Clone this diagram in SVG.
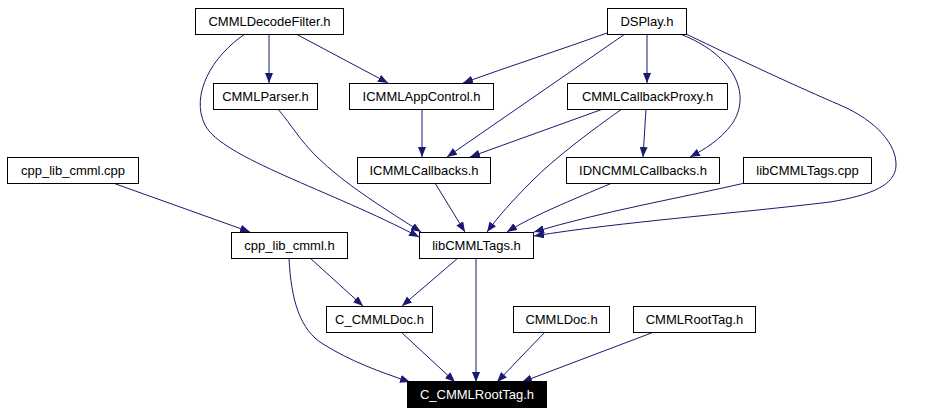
<svg xmlns="http://www.w3.org/2000/svg" width="952" height="415" viewBox="0 0 952 415">
<style>
.n rect{fill:#fff;stroke:#000;stroke-width:1}
.n text{font-family:"Liberation Sans",Arial,Helvetica,sans-serif;font-size:13px;fill:#000;text-anchor:middle}
.n.root rect{fill:#000}
.n.root text{fill:#fff}
.e path{fill:none;stroke:#191970;stroke-width:1;marker-end:url(#ah)}
</style>
<defs>
<marker id="ah" markerUnits="userSpaceOnUse" viewBox="0 0 10 8" refX="10" refY="4" markerWidth="10" markerHeight="8" orient="auto">
<path d="M0,0 L10,4 L0,8 z" fill="#191970"/>
</marker>
</defs>
<rect x="0" y="0" width="952" height="415" fill="#fff"/>
<g class="e" id="edges">
<path d="M269,34 L269,83"/>
<path d="M296,34 L388,83"/>
<path d="M245,34 C212,56 190,95 205,125 C222,158 330,190 419,237"/>
<path d="M278,109 C292,126 300,140 316,156 C345,185 390,212 421,232"/>
<path d="M422,109 L422,157"/>
<path d="M607,33 C560,50 510,66 463,83"/>
<path d="M625,34 L447,157"/>
<path d="M647,34 L647,83"/>
<path d="M680,34 C735,55 752,95 732,124 C720,140 705,149 690,157"/>
<path d="M686,34 C740,60 800,88 840,105 C877,121 897,145 896,166 C895,185 872,195 830,202 C740,213 620,222 534,236"/>
<path d="M603,109 L470,157"/>
<path d="M646,109 L643,157"/>
<path d="M622,109 C592,130 555,158 533,180 C512,201 497,218 487,232"/>
<path d="M435,183 L465,232"/>
<path d="M612,183 C572,200 532,216 507,232"/>
<path d="M745,183 C680,198 600,212 534,232"/>
<path d="M113,183 L250,232"/>
<path d="M310,258 L363,306"/>
<path d="M289,258 C291,300 300,330 323,344 C350,361 380,372 410,382"/>
<path d="M458,258 L402,306"/>
<path d="M476,258 L476,382"/>
<path d="M401,332 L455,382"/>
<path d="M545,332 L497,382"/>
<path d="M654,332 L522,382"/>
</g>
<g class="n" id="CMMLDecodeFilter"><rect x="195.5" y="8.5" width="148" height="26"/><text x="269.5" y="26">CMMLDecodeFilter.h</text></g>
<g class="n" id="DSPlay"><rect x="607.5" y="8.5" width="79" height="26"/><text x="647" y="26">DSPlay.h</text></g>
<g class="n" id="CMMLParser"><rect x="213.5" y="83.5" width="104" height="26"/><text x="265.5" y="101">CMMLParser.h</text></g>
<g class="n" id="ICMMLAppControl"><rect x="349.5" y="83.5" width="144" height="26"/><text x="421.5" y="101">ICMMLAppControl.h</text></g>
<g class="n" id="CMMLCallbackProxy"><rect x="567.5" y="83.5" width="160" height="26"/><text x="647.5" y="101">CMMLCallbackProxy.h</text></g>
<g class="n" id="cpp_lib_cmml_cpp"><rect x="7.5" y="157.5" width="131" height="26"/><text x="73" y="175">cpp_lib_cmml.cpp</text></g>
<g class="n" id="ICMMLCallbacks"><rect x="357.5" y="157.5" width="133" height="26"/><text x="424" y="175">ICMMLCallbacks.h</text></g>
<g class="n" id="IDNCMMLCallbacks"><rect x="566.5" y="157.5" width="153" height="26"/><text x="643" y="175">IDNCMMLCallbacks.h</text></g>
<g class="n" id="libCMMLTags_cpp"><rect x="743.5" y="157.5" width="128" height="26"/><text x="807.5" y="175">libCMMLTags.cpp</text></g>
<g class="n" id="cpp_lib_cmml_h"><rect x="231.5" y="232.5" width="116" height="26"/><text x="289.5" y="250">cpp_lib_cmml.h</text></g>
<g class="n" id="libCMMLTags_h"><rect x="419.5" y="232.5" width="114" height="26"/><text x="476.5" y="250">libCMMLTags.h</text></g>
<g class="n" id="C_CMMLDoc"><rect x="326.5" y="306.5" width="106" height="26"/><text x="379.5" y="324">C_CMMLDoc.h</text></g>
<g class="n" id="CMMLDoc"><rect x="513.5" y="306.5" width="96" height="26"/><text x="561.5" y="324">CMMLDoc.h</text></g>
<g class="n" id="CMMLRootTag"><rect x="633.5" y="306.5" width="122" height="26"/><text x="694.5" y="324">CMMLRootTag.h</text></g>
<g class="n root" id="C_CMMLRootTag"><rect x="407.5" y="381.5" width="139" height="26"/><text x="477" y="399">C_CMMLRootTag.h</text></g>
</svg>
